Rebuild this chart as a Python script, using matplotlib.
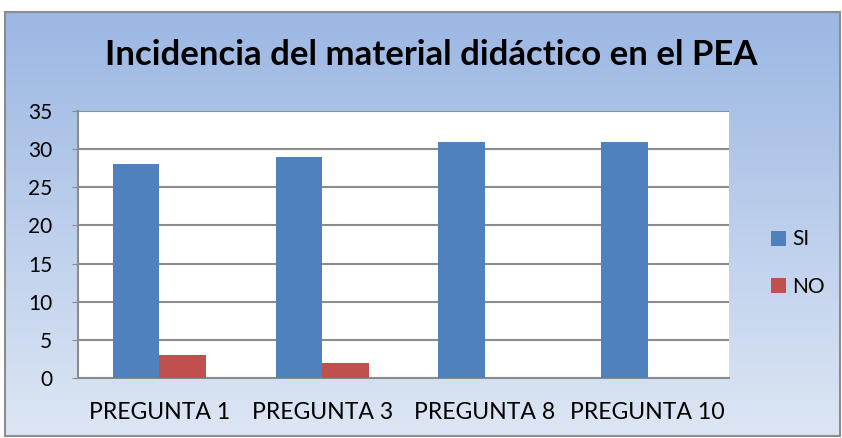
import numpy as np
import matplotlib
matplotlib.use("Agg")
import matplotlib.pyplot as plt

categories = ["PREGUNTA 1", "PREGUNTA 3", "PREGUNTA 8", "PREGUNTA 10"]
si_values = [28, 29, 31, 31]
no_values = [3, 2, 0, 0]
series_names = ["SI", "NO"]
title = "Incidencia del material didáctico en el PEA"

W, H = 842, 438
plt.rcParams['font.family'] = ['Lato', 'DejaVu Sans']
fig = plt.figure(figsize=(W / 100, H / 100), dpi=100)
fig.patch.set_facecolor("white")

# background panel with vertical gradient
fx0, fy0, fx1, fy1 = 5, 12, 840, 436
bg = fig.add_axes([fx0 / W, 1 - fy1 / H, (fx1 - fx0) / W, (fy1 - fy0) / H], zorder=0)
top = np.array([0x9B, 0xB7, 0xE3]) / 255
bot = np.array([0xDD, 0xE6, 0xF4]) / 255
t = np.linspace(0, 1, 256)[:, None]
grad = top[None, :] * (1 - t) + bot[None, :] * t
bg.imshow(grad[:, None, :].repeat(2, axis=1), aspect="auto", extent=[0, 1, 0, 1])
bg.set_xlim(0, 1); bg.set_ylim(0, 1)
bg.set_xticks([]); bg.set_yticks([])
for s in bg.spines.values():
    s.set_color("#8C8C8C"); s.set_linewidth(1.5)

# main plot
px0, py0, px1, py1 = 78, 111, 729, 378
ax = fig.add_axes([px0 / W, 1 - py1 / H, (px1 - px0) / W, (py1 - py0) / H], zorder=1)
ax.set_facecolor("white")
x = np.arange(len(categories))
bw = 0.285
ax.bar(x - bw / 2, si_values, bw, color="#4F81BD", label=series_names[0], zorder=3)
ax.bar(x + bw / 2, no_values, bw, color="#C0504D", label=series_names[1], zorder=3)
ax.set_xlim(-0.5, len(categories) - 0.5)
ax.set_ylim(0, 35)
ax.set_yticks(range(0, 36, 5))
ax.yaxis.grid(True, color="#8C8C8C", linewidth=1.5, zorder=1)
ax.set_axisbelow(True)
ax.set_xticks(x)
ax.set_xticklabels(categories, fontsize=16.6)
ax.tick_params(axis="x", length=0, pad=17)
ax.tick_params(axis="y", length=4, color="#8C8C8C", labelsize=15, pad=14.5)
ax.spines["right"].set_visible(False)
ax.spines["top"].set_visible(False)
ax.spines["left"].set_color("#8C8C8C"); ax.spines["left"].set_linewidth(1.5)
ax.spines["bottom"].set_color("#8C8C8C"); ax.spines["bottom"].set_linewidth(1.5)

leg = fig.legend(loc="center left", bbox_to_anchor=(771 / W, 1 - 263 / H), frameon=False,
                 fontsize=15, handlelength=0.72, handleheight=0.72, handletextpad=0.3,
                 labelspacing=1.3, borderaxespad=0, borderpad=0,
                 handles=ax.get_legend_handles_labels()[0],
                 labels=ax.get_legend_handles_labels()[1])

fig.text(431 / W, 1 - 55 / H, title, ha="center", va="center",
         fontsize=25, fontweight="bold", color="black")

fig.savefig("out.png", dpi=100, facecolor=fig.get_facecolor())
